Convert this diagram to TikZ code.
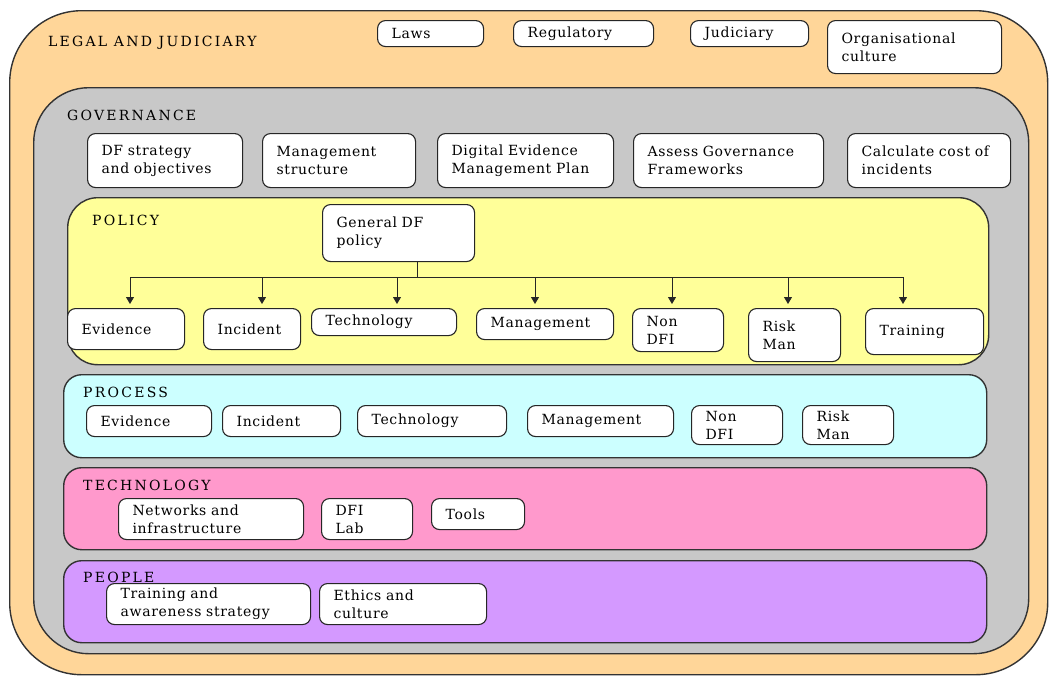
\documentclass[tikz,border=0pt]{standalone}
\usepackage{fontspec}
\setmainfont{DejaVu Serif}
\newfontfamily\boxfont[LetterSpace=5]{DejaVu Serif}
\newfontfamily\lblfont[LetterSpace=16]{DejaVu Serif}
\usetikzlibrary{arrows.meta}
\definecolor{cLegal}{HTML}{FFD699}
\definecolor{cGov}{HTML}{C8C8C8}
\definecolor{cPol}{HTML}{FFFF99}
\definecolor{cProc}{HTML}{CCFFFF}
\definecolor{cTech}{HTML}{FF99CC}
\definecolor{cPeople}{HTML}{D499FF}
\tikzset{
  box/.style={draw=black!85, line width=1.1pt, fill=white, rounded corners=8pt,
    align=left, inner xsep=14pt, inner ysep=1pt, font=\boxfont\fontsize{14}{18}\selectfont},
  layer/.style={draw=black!80, line width=1.4pt, inner sep=0pt},
  lbl/.style={anchor=west, inner sep=0pt, font=\lblfont\fontsize{14}{16}\selectfont},
  conn/.style={line width=0.9pt, draw=black!85},
  arr/.style={conn, -{Triangle[length=7pt,width=8pt]}, shorten >=4pt}
}
\newcommand\bx[7][]{%
  \pgfmathsetmacro\bxw{#5-#3}\pgfmathsetmacro\bxh{#6-#4}\pgfmathsetmacro\bxt{#5-#3-28}%
  \node[box,#1,anchor=north west,minimum width=\bxw pt,minimum height=\bxh pt,text width=\bxt pt] (#2) at (#3,#4) {#7};}
\newcommand\lay[7]{%
  \pgfmathsetmacro\bxw{#5-#3}\pgfmathsetmacro\bxh{#6-#4}%
  \node[layer,#1,anchor=north west,minimum width=\bxw pt,minimum height=\bxh pt] (#2) at (#3,#4) {#7};}
\begin{document}
\begin{tikzpicture}[x=1pt,y=-1pt]
\useasboundingbox (0,0) rectangle (1051,678);
% layers
\lay{fill=cLegal, rounded corners=72pt}{legal}{9}{10}{1047}{674}{}
\lay{fill=cGov, rounded corners=55pt}{gov}{33}{87}{1028}{653}{}
\lay{fill=cPol, rounded corners=30pt}{pol}{67}{197}{988}{364}{}
\lay{fill=cProc, rounded corners=18pt}{proc}{63}{374}{986}{457}{}
\lay{fill=cTech, rounded corners=18pt}{tech}{63}{467}{986}{549}{}
\lay{fill=cPeople, rounded corners=18pt}{people}{63}{560}{986}{642}{}
% labels
\node[lbl] (llegal) at (48,43) {LEGAL AND JUDICIARY};
\node[lbl] (lgov) at (67,115) {GOVERNANCE};
\node[lbl] (lpol) at (92,220) {POLICY};
\node[lbl] (lproc) at (83,392) {PROCESS};
\node[lbl] (ltech) at (83,485) {TECHNOLOGY};
\node[lbl] (lpeople) at (83,577) {PEOPLE};
% legal boxes
\bx{laws}{377}{20}{483}{46}{Laws}
\bx{reg}{513}{20}{653}{46}{Regulatory}
\bx{jud}{690}{20}{808}{46}{Judiciary}
\bx{org}{827}{20}{1001}{73}{Organisational\\culture}
% governance boxes
\bx{dfs}{87}{133}{242}{187}{DF strategy\\and objectives}
\bx{mgs}{262}{133}{415}{187}{Management\\structure}
\bx{dem}{437}{133}{613}{187}{Digital Evidence\\Management Plan}
\bx{agf}{633}{133}{823}{187}{Assess Governance\\Frameworks}
\bx{cci}{847}{133}{1010}{187}{Calculate cost of\\incidents}
% policy
\bx{gdf}{322}{204}{474}{261}{General DF\\policy}
\bx{pev}{67}{308}{184}{349}{Evidence}
\bx{pin}{203}{308}{300}{349}{Incident}
\bx{pte}{311}{308}{456}{335}{Technology}
\bx{pma}{476}{308}{613}{339}{Management}
\bx{pnd}{632}{308}{723}{351}{Non\\DFI}
\bx{prm}{748}{308}{840}{361}{Risk\\Man}
\bx{ptr}{865}{308}{983}{354}{Training}
\coordinate (j) at (417,277);
\coordinate (a1) at (130,277);
\coordinate (a2) at (262,277);
\coordinate (a3) at (397,277);
\coordinate (a4) at (535,277);
\coordinate (a5) at (672,277);
\coordinate (a6) at (788,277);
\coordinate (a7) at (903,277);
\draw[conn] (gdf.south -| j) -- (j);
\draw[conn] (a1) -- (a7);
\draw[arr] (a1) -- (a1 |- pev.north);
\draw[arr] (a2) -- (a2 |- pin.north);
\draw[arr] (a3) -- (a3 |- pte.north);
\draw[arr] (a4) -- (a4 |- pma.north);
\draw[arr] (a5) -- (a5 |- pnd.north);
\draw[arr] (a6) -- (a6 |- prm.north);
\draw[arr] (a7) -- (a7 |- ptr.north);
% process
\bx{rev}{86}{405}{211}{436}{Evidence}
\bx{rin}{222}{405}{340}{436}{Incident}
\bx{rte}{357}{405}{506}{436}{Technology}
\bx{rma}{527}{405}{673}{436}{Management}
\bx{rnd}{691}{405}{782}{444}{Non\\DFI}
\bx{rrm}{802}{405}{893}{444}{Risk\\Man}
% technology
\bx{tnw}{118}{498}{303}{539}{Networks and\\infrastructure}
\bx{tlab}{321}{498}{412}{539}{DFI\\Lab}
\bx{ttools}{431}{498}{524}{529}{Tools}
% people
\bx{etr}{106}{583}{310}{624}{Training and\\awareness strategy}
\bx{eth}{319}{583}{486}{624}{Ethics and\\culture}
\end{tikzpicture}
\end{document}
